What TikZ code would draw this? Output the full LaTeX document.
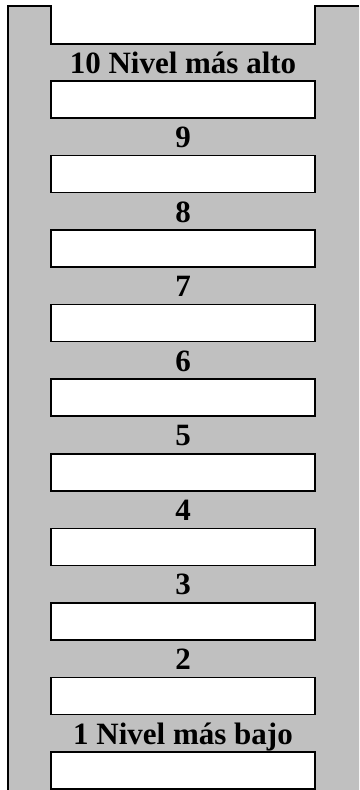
\documentclass[tikz,border=0pt]{standalone}
\usepackage{fontspec}
\setmainfont{Liberation Serif}
\usepackage{tikz}
\usetikzlibrary{positioning}
\definecolor{railgray}{RGB}{192,192,192}

\begin{document}
\begin{tikzpicture}[x=1pt,y=-1pt,
  rung/.style={draw,fill=white,line width=1.5pt,minimum width=264pt,minimum height=37pt,inner sep=0pt},
  lvl/.style={anchor=base,inner sep=0pt,font=\bfseries\fontsize{31}{36}\selectfont}]
\useasboundingbox (0,0) rectangle (359,790);
\fill[railgray] (8,790) -- (8,6) -- (51,6) -- (51,44) -- (315,44) -- (315,6) -- (359,6) -- (359,790) -- cycle;
\draw[line width=1.5pt] (8,790) -- (8,6) -- (51,6) -- (51,44) -- (315,44) -- (315,6) -- (359,6);

% rungs
\node[rung] (r10) at (183,99.5) {};
\node[rung] (r9) at (183,174.1) {};
\node[rung] (r8) at (183,248.6) {};
\node[rung] (r7) at (183,323.2) {};
\node[rung] (r6) at (183,397.7) {};
\node[rung] (r5) at (183,472.3) {};
\node[rung] (r4) at (183,546.9) {};
\node[rung] (r3) at (183,621.4) {};
\node[rung] (r2) at (183,696) {};
\node[rung] (r1) at (183,770.5) {};

% levels
\node[lvl] (l10) at (183,73) {10 Nivel más alto};
\node[lvl] (l9) at (183,147.6) {9};
\node[lvl] (l8) at (183,222.1) {8};
\node[lvl] (l7) at (183,296.7) {7};
\node[lvl] (l6) at (183,371.2) {6};
\node[lvl] (l5) at (183,445.8) {5};
\node[lvl] (l4) at (183,520.4) {4};
\node[lvl] (l3) at (183,594.9) {3};
\node[lvl] (l2) at (183,669.5) {2};
\node[lvl] (l1) at (183,744) {1 Nivel más bajo};
\end{tikzpicture}
\end{document}
